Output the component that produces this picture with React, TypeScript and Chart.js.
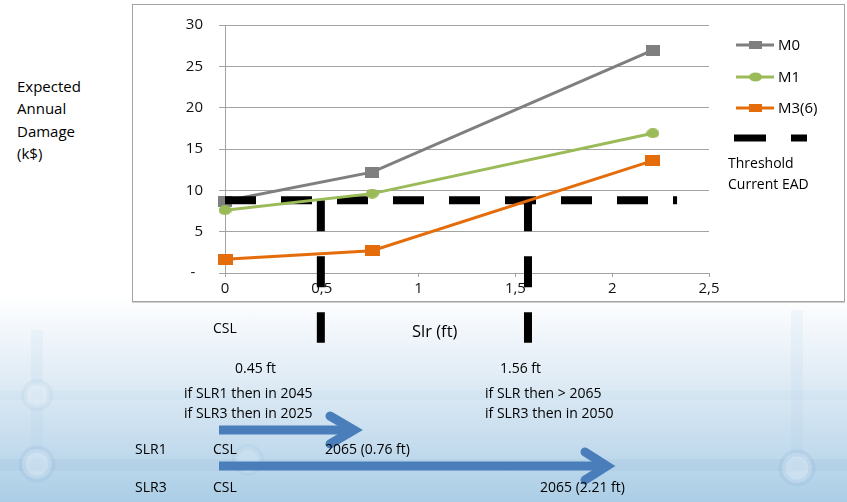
import React, { useEffect, useRef } from "react";
import { Chart, registerables } from "chart.js";

Chart.register(...registerables);

// ---- data ----
const xValues = [0, 0.76, 2.21];
const m0Values = [8.7, 12.2, 26.95];
const m1Values = [7.6, 9.6, 16.9];
const m3Values = [1.65, 2.7, 13.6];
const seriesLabels = ["M0", "M1", "M3(6)"];
const thresholdValue = 8.8;
const thresholdSpan = [0, 2.335];
const crossingX = [0.495, 1.565];
const crossingBottom = -8.43;
const yTickLabels = ["-  ", "5", "10", "15", "20", "25", "30"];
const xTickLabels = ["0", "0,5", "1", "1,5", "2", "2,5"];

const FONT = "'Open Sans', 'Noto Sans', sans-serif";
const GRAY = "#7f7f7f";
const GREEN = "#9bbb59";
const ORANGE = "#e46c0a";
const GRID = "#a3a3a3";

function makeMarker(w: number, h: number, color: string, shape: "rect" | "ellipse") {
  const c = document.createElement("canvas");
  c.width = w;
  c.height = h;
  const ctx = c.getContext("2d")!;
  ctx.fillStyle = color;
  if (shape === "rect") ctx.fillRect(0, 0, w, h);
  else {
    ctx.beginPath();
    ctx.ellipse(w / 2, h / 2, w / 2, h / 2, 0, 0, Math.PI * 2);
    ctx.fill();
  }
  return c;
}

const legendPlugin = {
  id: "customLegend",
  afterDraw(chart: any) {
    const ctx = chart.ctx;
    ctx.save();
    const items = [
      { label: seriesLabels[0], color: GRAY, shape: "rect", y: 45 },
      { label: seriesLabels[1], color: GREEN, shape: "ellipse", y: 77 },
      { label: seriesLabels[2], color: ORANGE, shape: "rect", y: 108 },
    ];
    items.forEach((it) => {
      ctx.strokeStyle = it.color;
      ctx.lineWidth = 3;
      ctx.beginPath();
      ctx.moveTo(736, it.y);
      ctx.lineTo(774, it.y);
      ctx.stroke();
      ctx.fillStyle = it.color;
      if (it.shape === "rect") ctx.fillRect(749, it.y - 4, 13, 8);
      else {
        ctx.beginPath();
        ctx.ellipse(755.5, it.y, 6.5, 4.5, 0, 0, Math.PI * 2);
        ctx.fill();
      }
      ctx.fillStyle = "#000";
      ctx.font = `15px ${FONT}`;
      ctx.textBaseline = "middle";
      ctx.textAlign = "left";
      ctx.fillText(it.label, 778, it.y + 1);
    });
    ctx.fillStyle = "#000";
    ctx.fillRect(734, 134.5, 32, 7);
    ctx.fillRect(791, 134.5, 16, 7);
    ctx.font = `14px ${FONT}`;
    ctx.textBaseline = "middle";
    ctx.fillText("Threshold", 728, 164);
    ctx.fillText("Current EAD", 728, 185);
    ctx.restore();
  },
};

function ChartCanvas() {
  const ref = useRef<HTMLCanvasElement | null>(null);
  useEffect(() => {
    if (!ref.current) return;
    const pt = (ys: number[]) => xValues.map((x, i) => ({ x, y: ys[i] }));
    const vLine = (x: number) => [
      { x, y: thresholdValue },
      { x, y: crossingBottom },
    ];
    const chart = new Chart(ref.current, {
      type: "line",
      data: {
        datasets: [
          {
            label: seriesLabels[2],
            data: pt(m3Values),
            borderColor: ORANGE,
            borderWidth: 3,
            pointStyle: makeMarker(15, 11, ORANGE, "rect") as any,
            clip: false as any,
          },
          {
            label: seriesLabels[1],
            data: pt(m1Values),
            borderColor: GREEN,
            borderWidth: 3,
            pointStyle: makeMarker(13, 10, GREEN, "ellipse") as any,
            clip: false as any,
          },
          {
            label: "v1",
            data: vLine(crossingX[0]),
            borderColor: "#000",
            borderWidth: 8,
            borderDash: [31, 25],
            borderCapStyle: "butt",
            pointRadius: 0,
            clip: false as any,
          },
          {
            label: "v2",
            data: vLine(crossingX[1]),
            borderColor: "#000",
            borderWidth: 8,
            borderDash: [31, 25],
            borderCapStyle: "butt",
            pointRadius: 0,
            clip: false as any,
          },
          {
            label: "Threshold Current EAD",
            data: thresholdSpan.map((x) => ({ x, y: thresholdValue })),
            borderColor: "#000",
            borderWidth: 8,
            borderDash: [31, 25],
            borderCapStyle: "butt",
            pointRadius: 0,
            clip: false as any,
          },
          {
            label: seriesLabels[0],
            data: pt(m0Values),
            borderColor: GRAY,
            borderWidth: 3,
            pointStyle: makeMarker(14, 11, GRAY, "rect") as any,
            clip: false as any,
          },
        ],
      },
      options: {
        animation: false,
        responsive: false,
        events: [],
        layout: { padding: { top: 24, right: 138, left: 0, bottom: 0 } },
        plugins: { legend: { display: false }, tooltip: { enabled: false } },
        scales: {
          x: {
            type: "linear",
            min: 0,
            max: 2.5,
            afterFit: (s: any) => {
              s.height = 229;
            },
            ticks: {
              stepSize: 0.5,
              padding: 3,
              color: "#111",
              font: { family: FONT, size: 15 },
              callback: (_v: any, i: number) => xTickLabels[i],
            },
            grid: { drawOnChartArea: false, drawTicks: true, tickLength: 4, color: GRID },
            border: { display: true, color: GRID, width: 1 },
          },
          y: {
            type: "linear",
            min: 0,
            max: 30,
            afterFit: (s: any) => {
              s.width = 225;
            },
            ticks: {
              stepSize: 5,
              padding: 16,
              color: "#111",
              font: { family: FONT, size: 15 },
              callback: (_v: any, i: number) => yTickLabels[i],
            },
            grid: { color: GRID, tickLength: 6, drawTicks: true },
            border: { display: true, color: GRID, width: 1 },
          },
        },
      },
      plugins: [legendPlugin],
    });
    return () => chart.destroy();
  }, []);
  return (
    <canvas
      ref={ref}
      width={847}
      height={502}
      style={{ position: "absolute", left: 0, top: 0, width: 847, height: 502 }}
    />
  );
}

function T(props: { x: number; y: number; size?: number; children: React.ReactNode }) {
  const size = props.size ?? 14;
  return (
    <span
      style={{
        position: "absolute",
        left: props.x,
        top: props.y - size * 0.74,
        fontSize: size,
        lineHeight: `${size * 1.4}px`,
        whiteSpace: "nowrap",
        color: "#000",
      }}
    >
      {props.children}
    </span>
  );
}

export default function App() {
  return (
    <div
      style={{
        position: "absolute",
        left: 0,
        top: 0,
        width: 847,
        height: 502,
        overflow: "hidden",
        background: "#fff",
        fontFamily: FONT,
      }}
    >
      <div
        style={{
          position: "absolute",
          left: 0,
          top: 296,
          width: 847,
          height: 206,
          background:
            "linear-gradient(to bottom, #ffffff 0%, #f1f6fb 18%, #d8e7f3 50%, #bfd9ec 78%, #abcee6 100%)",
        }}
      />
      <svg width={847} height={502} style={{ position: "absolute", left: 0, top: 0 }}>
        <rect x={0} y={390} width={847} height={10} fill="rgba(160,195,225,0.09)" />
        <rect x={0} y={459} width={847} height={12} fill="rgba(130,172,210,0.13)" />
        <rect x={31} y={330} width={12} height={140} fill="rgba(160,195,225,0.1)" />
        <rect x={791} y={310} width={12} height={160} fill="rgba(160,195,225,0.1)" />
        <circle cx={37} cy={395} r={13} fill="rgba(240,247,253,0.35)" stroke="rgba(150,185,215,0.13)" strokeWidth={6} />
        <circle cx={37} cy={464} r={15} fill="rgba(232,242,251,0.4)" stroke="rgba(130,170,210,0.16)" strokeWidth={7} />
        <circle cx={797} cy={468} r={15} fill="rgba(232,242,251,0.4)" stroke="rgba(130,170,210,0.16)" strokeWidth={7} />
        <circle cx={248} cy={460} r={13} fill="rgba(232,242,251,0.25)" stroke="rgba(140,180,215,0.12)" strokeWidth={6} />
      </svg>
      <div
        style={{
          position: "absolute",
          left: 132,
          top: 4,
          width: 711,
          height: 296,
          background: "#fff",
          border: "1px solid #a3a3a3",
          boxShadow: "0 1px 0 #cfcfcf",
        }}
      />
      <div
        style={{
          position: "absolute",
          left: 17,
          top: 75,
          fontSize: 15,
          lineHeight: "22.3px",
          color: "#000",
        }}
      >
        Expected
        <br />
        Annual
        <br />
        Damage
        <br />
        (k$)
      </div>
      <ChartCanvas />
      <svg width={847} height={502} style={{ position: "absolute", left: 0, top: 0 }}>
        <g stroke="#4a7ebb" strokeWidth={9} fill="none">
          <line x1={219} y1={430} x2={350} y2={430} />
          <polyline points="330,416 354,430 330,444" strokeLinecap="round" strokeLinejoin="miter" />
          <line x1={219} y1={466} x2={602} y2={466} />
          <polyline points="585,452 607,466 585,480" strokeLinecap="round" strokeLinejoin="miter" />
        </g>
      </svg>
      <T x={213} y={328}>CSL</T>
      <T x={412} y={331} size={16.5}>Slr (ft)</T>
      <T x={235} y={368}>0.45 ft</T>
      <T x={500} y={368}>1.56 ft</T>
      <T x={184} y={393}>if SLR1 then in 2045</T>
      <T x={184} y={413}>if SLR3 then in 2025</T>
      <T x={485} y={393}>if SLR then &gt; 2065</T>
      <T x={485} y={413}>if SLR3 then in 2050</T>
      <T x={135} y={449}>SLR1</T>
      <T x={213} y={449}>CSL</T>
      <T x={325} y={449}>2065 (0.76 ft)</T>
      <T x={135} y={487}>SLR3</T>
      <T x={213} y={487}>CSL</T>
      <T x={540} y={487}>2065 (2.21 ft)</T>
    </div>
  );
}
